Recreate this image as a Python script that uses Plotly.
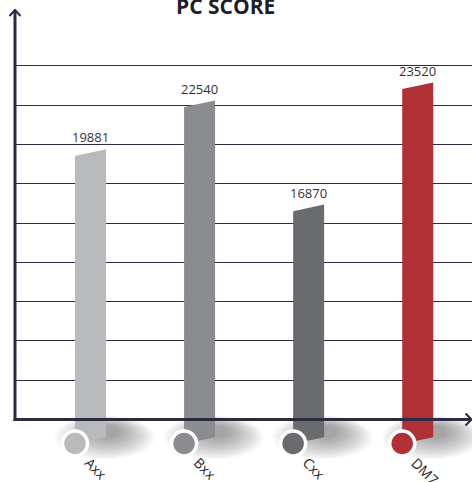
import plotly.graph_objects as go

# ---- data -------------------------------------------------------------
categories = ["Axx", "Bxx", "Cxx", "DM7"]
scores = [19881, 22540, 16870, 23520]
bar_colors = ["#b9babc", "#8b8c8f", "#6a6b6e", "#b03036"]
title_text = "PC SCORE"

# ---- layout geometry ----------------------------------------------------
W, H = 472, 482
LEFT = 14            # left margin (px) - the y axis sits here
X0_PX = 90.5         # pixel centre of the first category
X_PX = 109.07        # pixels per category step
Y_PX = 0.01836       # pixels per score unit
AXIS_PX = 419.5      # pixel row of the x axis line
BASE = 5345          # score value sitting on the x axis line
STEP = 2140          # score step between gridlines
N_GRID = 9

AXIS_COLOR = "#2c2b42"
FONT = "Open Sans"

x_range = [(LEFT - X0_PX) / X_PX, (W - X0_PX) / X_PX]
y_range = [BASE - (H - AXIS_PX) / Y_PX, BASE + AXIS_PX / Y_PX]


def dx(px):
    return px / X_PX


def dy(px):
    return px / Y_PX


def paper_x(px):
    return (px - LEFT) / (W - LEFT)


def paper_y(py):
    return 1 - py / H


half_w = dx(15.5)        # half bar width
slant = dy(3.3)          # tilt of the bar top / bottom edge
bottom = BASE - dy(21)   # bars run a little below the axis
dot_y = BASE - dy(24)    # category dots

fig = go.Figure()
shapes = []

# soft drop shadow under each bar, built from stacked translucent ellipses
N_SH = 18
for i in range(len(categories)):
    for k in range(N_SH):
        t = k / (N_SH - 1)
        cx = i + dx(14 - 10 * t) + half_w * t
        cy = BASE - dy(18 - 6 * t)
        rx = dx(50 - 42 * t)
        ry = dy(22 - 16 * t)
        shapes.append(dict(
            type="circle", xref="x", yref="y", layer="below",
            x0=cx - rx, x1=cx + rx, y0=cy - ry, y1=cy + ry,
            fillcolor="rgba(60,60,60,0.032)", line=dict(width=0),
        ))

# bars with slanted tops
for i, (cat, v, col) in enumerate(zip(categories, scores, bar_colors)):
    fig.add_trace(go.Scatter(
        x=[i - half_w, i - half_w, i + half_w, i + half_w, i - half_w],
        y=[bottom - slant, v - slant, v + slant, bottom + slant, bottom - slant],
        mode="lines", fill="toself", fillcolor=col,
        line=dict(width=0, color=col), hoverinfo="skip", showlegend=False,
    ))

# category dots
fig.add_trace(go.Scatter(
    x=[i - half_w for i in range(len(categories))],
    y=[dot_y] * len(categories),
    mode="markers",
    marker=dict(size=25, color=bar_colors, line=dict(color="white", width=3.5)),
    hoverinfo="skip", showlegend=False, cliponaxis=False,
))

annotations = []
# value labels
for i, v in enumerate(scores):
    annotations.append(dict(
        x=i, y=v + slant, xref="x", yref="y", text=str(v), showarrow=False,
        xanchor="center", yanchor="bottom", yshift=1,
        font=dict(family=FONT, size=13, color="#333333"),
    ))
# category labels, tilted
for i, cat in enumerate(categories):
    annotations.append(dict(
        x=i - half_w + dx(3), y=dot_y - dy(7), xref="x", yref="y",
        text=cat, showarrow=False, textangle=45,
        xanchor="left", yanchor="top",
        font=dict(family=FONT, size=14, color="#2a2a2a"),
    ))
# title
annotations.append(dict(
    x=paper_x(225), y=paper_y(6), xref="paper", yref="paper",
    text="<b>" + title_text + "</b>", showarrow=False,
    xanchor="center", yanchor="middle",
    font=dict(family=FONT, size=21, color="#1e1e2c"),
))

# axis lines with open arrow heads
shapes += [
    dict(type="line", xref="paper", yref="paper",
         x0=paper_x(15), x1=paper_x(15), y0=paper_y(AXIS_PX + 1.5), y1=paper_y(10),
         line=dict(color=AXIS_COLOR, width=3), layer="above"),
    dict(type="path", xref="paper", yref="paper",
         path=f"M {paper_x(9.5)} {paper_y(16)} L {paper_x(15)} {paper_y(10)} L {paper_x(20.5)} {paper_y(16)}",
         line=dict(color=AXIS_COLOR, width=2), layer="above"),
    dict(type="line", xref="paper", yref="paper",
         x0=paper_x(13.5), x1=paper_x(471), y0=paper_y(AXIS_PX), y1=paper_y(AXIS_PX),
         line=dict(color=AXIS_COLOR, width=3), layer="above"),
    dict(type="path", xref="paper", yref="paper",
         path=f"M {paper_x(465.5)} {paper_y(413.5)} L {paper_x(471.5)} {paper_y(AXIS_PX)} L {paper_x(465.5)} {paper_y(425.5)}",
         line=dict(color=AXIS_COLOR, width=2), layer="above"),
]

fig.update_layout(
    width=W, height=H,
    margin=dict(l=LEFT, r=0, t=0, b=0),
    paper_bgcolor="white", plot_bgcolor="white",
    shapes=shapes, annotations=annotations,
    xaxis=dict(range=x_range, showgrid=False, zeroline=False,
               showticklabels=False, showline=False, fixedrange=True),
    yaxis=dict(range=y_range, zeroline=False, showticklabels=False, showline=False,
               tickmode="array",
               tickvals=[BASE + STEP * k for k in range(1, N_GRID + 1)],
               showgrid=True, gridcolor=AXIS_COLOR, gridwidth=1.4, fixedrange=True),
    showlegend=False,
)

fig.write_html("out.html")
